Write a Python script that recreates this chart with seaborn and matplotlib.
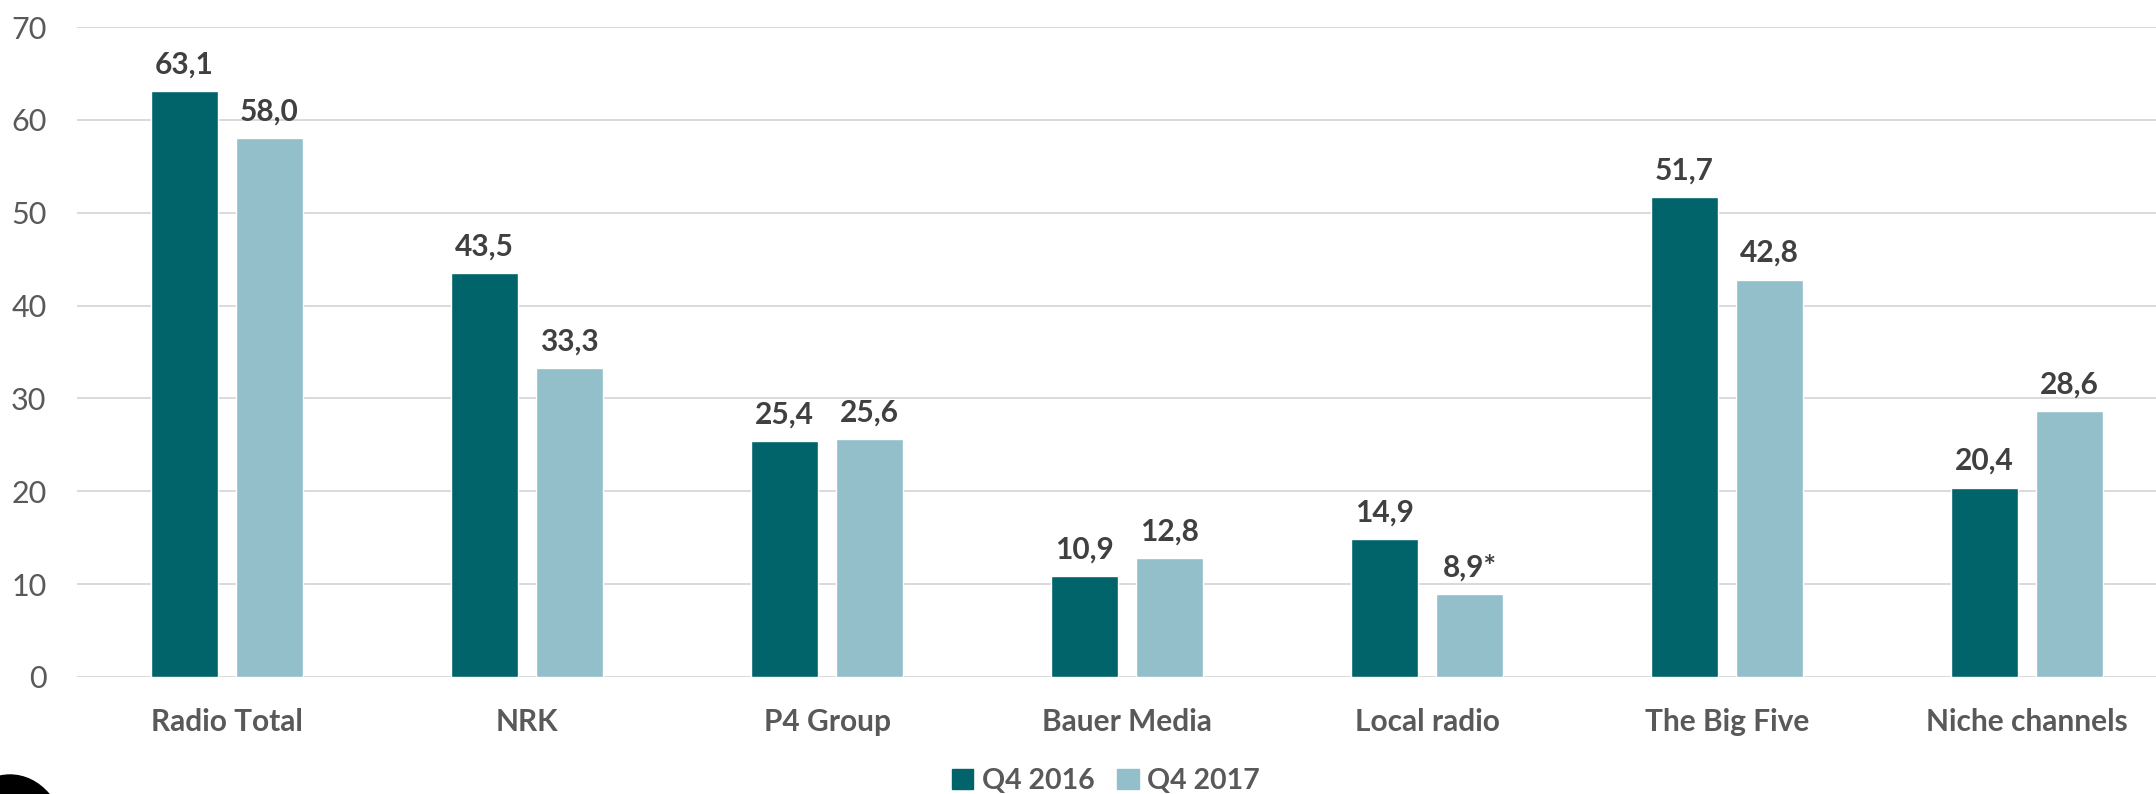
import pandas as pd
import seaborn as sns
import matplotlib.pyplot as plt
from matplotlib.patches import Ellipse

# data
categories = ["Radio Total", "NRK", "P4 Group", "Bauer Media", "Local radio", "The Big Five", "Niche channels"]
q4_2016 = [63.1, 43.5, 25.4, 10.9, 14.9, 51.7, 20.4]
q4_2017 = [58.0, 33.3, 25.6, 12.8, 8.9, 42.8, 28.6]
labels_2016 = ["63,1", "43,5", "25,4", "10,9", "14,9", "51,7", "20,4"]
labels_2017 = ["58,0", "33,3", "25,6", "12,8", "8,9*", "42,8", "28,6"]
series = ["Q4 2016", "Q4 2017"]

df = pd.DataFrame({
    "Category": categories * 2,
    "Series": [series[0]] * len(categories) + [series[1]] * len(categories),
    "Value": q4_2016 + q4_2017,
})

sns.set_theme(style="white")
plt.rcParams['font.family'] = ['Lato', 'DejaVu Sans']

W, H = 2156, 794
fig = plt.figure(figsize=(W / 100, H / 100), dpi=100)
ax = fig.add_axes([77 / W, 1 - 677 / H, 2100 / W, 650 / H])

palette = {"Q4 2016": "#00646A", "Q4 2017": "#92BFCA"}
sns.barplot(data=df, x="Category", y="Value", hue="Series", palette=palette,
            width=0.567, gap=0.212, ax=ax, legend=False, saturation=1)

ax.set_ylim(0, 70)
ax.set_xlim(-0.5, len(categories) - 0.5)
ax.set_yticks(range(0, 71, 10))
ax.yaxis.grid(True, color="#D9D9D9", linewidth=1.4)
ax.set_axisbelow(True)
for s in ax.spines.values():
    s.set_visible(False)
ax.set_xlabel("")
ax.set_ylabel("")
ax.tick_params(axis="y", length=0, pad=22, labelsize=22, labelcolor="#595959")
ax.tick_params(axis="x", length=0, pad=22, labelsize=21.5, labelcolor="#595959")
for t in ax.get_xticklabels():
    t.set_fontweight("bold")

# value labels
for container, labs in zip(ax.containers, [labels_2016, labels_2017]):
    ax.bar_label(container, labels=labs, padding=9, fontsize=21.5, fontweight="bold", color="#404040")

# legend
handles = [plt.Rectangle((0, 0), 1, 1, color=palette[s]) for s in series]
fig.legend(handles, series, loc="center", bbox_to_anchor=(1106 / W, 1 - 781 / H), ncol=2, frameon=False,
           prop={"size": 20.5, "weight": "bold"}, labelcolor="#595959",
           handlelength=0.75, handleheight=0.75, handletextpad=0.3, columnspacing=0.8)

# black shape at lower-left corner
fig.patches.append(Ellipse((10 / W, 1 - 840 / H), 110 / W, 130 / H, transform=fig.transFigure,
                           color="black", zorder=5))

fig.savefig("out.png", dpi=100)
